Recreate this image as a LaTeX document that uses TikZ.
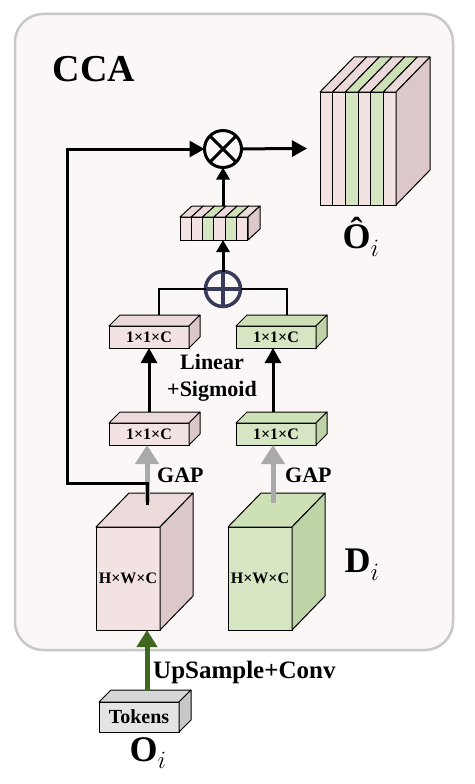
\documentclass[tikz,border=0pt]{standalone}
\usepackage{fontspec}
\setmainfont{Liberation Serif}
\usetikzlibrary{arrows.meta}

\definecolor{bgpink}{RGB}{251,247,246}
\definecolor{framegray}{RGB}{200,200,200}
\definecolor{pinkF}{RGB}{242,226,226}
\definecolor{pinkT}{RGB}{236,218,218}
\definecolor{pinkS}{RGB}{220,200,200}
\definecolor{greenF}{RGB}{214,230,194}
\definecolor{greenT}{RGB}{205,224,182}
\definecolor{greenS}{RGB}{190,211,166}
\definecolor{tokF}{RGB}{228,228,228}
\definecolor{tokT}{RGB}{214,214,214}
\definecolor{tokS}{RGB}{200,200,200}
\definecolor{arrgray}{RGB}{170,170,170}
\definecolor{upgreen}{RGB}{62,104,32}
\definecolor{plusnavy}{RGB}{55,58,90}

% top and side faces of a block whose front face is node #1
\newcommand{\boxfaces}[5]{%
  \draw[box,fill=#4] (#1.north west) -- ++(#2,#3) -- ([shift={(#2,#3)}]#1.north east) -- (#1.north east) -- cycle;
  \draw[box,fill=#5] (#1.north east) -- ++(#2,#3) -- ([shift={(#2,#3)}]#1.south east) -- (#1.south east) -- cycle;}

\begin{document}
\begin{tikzpicture}[x=1pt,y=-1pt]
        % Styles
        \tikzstyle{box}=[draw=black,line width=1pt,line join=round]
        \tikzstyle{block}=[box,rectangle,inner sep=0pt,outer sep=0pt,font=\fontsize{16}{16}\selectfont\bfseries]
        \tikzstyle{arr}=[line width=3pt,-{Triangle[length=15pt,width=16pt]}]
        \tikzstyle{small arr}=[line width=3pt,-{Triangle[length=12pt,width=13pt]}]
        \tikzstyle{gap arr}=[line width=5pt,draw=arrgray,-{Triangle[length=19pt,width=23pt]},arrgray]
        \tikzstyle{up arr}=[line width=5pt,draw=upgreen,-{Triangle[length=17pt,width=20pt]},upgreen]
        \tikzstyle{label text}=[font=\fontsize{22}{27}\selectfont\bfseries,inner sep=0pt]
        \tikzstyle{big label}=[font=\fontsize{36}{36}\selectfont,inner sep=0pt]
        \tikzstyle{symbol}=[circle,draw,inner sep=0pt,outer sep=0pt,minimum size=37pt,line width=3pt]
        \useasboundingbox (0,0) rectangle (474,784);
        %The graphic
        %frame
        \draw[line width=2.5pt,draw=framegray,fill=bgpink,rounded corners=28pt] (15,14) rectangle (453,650);
        \node[font=\fontsize{38}{38}\selectfont\bfseries] (cca) at (94,69) {CCA};
        %feature blocks
        \node[block,fill=pinkF,minimum width=64pt,minimum height=103pt] (dpink) at (128,578.5) {H×W×C};
        \boxfaces{dpink}{33}{-34}{pinkT}{pinkS}
        \node[block,fill=greenF,minimum width=64pt,minimum height=103pt] (dgreen) at (260,578.5) {H×W×C};
        \boxfaces{dgreen}{33}{-34}{greenT}{greenS}
        \node[block,fill=pinkF,minimum width=80pt,minimum height=22pt] (gpink) at (149,434) {1×1×C};
        \boxfaces{gpink}{11}{-11}{pinkT}{pinkS}
        \node[block,fill=greenF,minimum width=80pt,minimum height=22pt] (ggreen) at (276,434) {1×1×C};
        \boxfaces{ggreen}{11}{-11}{greenT}{greenS}
        \node[block,fill=pinkF,minimum width=80pt,minimum height=22pt] (lpink) at (149,337) {1×1×C};
        \boxfaces{lpink}{11}{-11}{pinkT}{pinkS}
        \node[block,fill=greenF,minimum width=80pt,minimum height=22pt] (lgreen) at (276,337) {1×1×C};
        \boxfaces{lgreen}{11}{-11}{greenT}{greenS}
        \node[block,fill=tokF,minimum width=80pt,minimum height=30pt,font=\fontsize{20}{20}\selectfont\bfseries] (tokens) at (139,717) {Tokens};
        \boxfaces{tokens}{12}{-12}{tokT}{tokS}
        %channel weights and output
        \node[inner sep=0pt,outer sep=0pt,minimum width=68pt,minimum height=23pt] (bar) at (214,228.5) {};
        \foreach \i/\f/\t in {0/pinkF/pinkT,1/pinkF/pinkT,2/greenF/greenT,3/pinkF/pinkT,4/greenF/greenT,5/pinkF/pinkT}
        {
            \draw[box,fill=\f] (180+\i*11.33,217) rectangle ++(11.33,23);
            \draw[box,fill=\t] (180+\i*11.33,217) -- ++(12,-11) -- ++(11.33,0) -- ++(-12,11) -- cycle;
        }
        \draw[box,fill=pinkS] (248,217) -- ++(12,-11) -- ++(0,23) -- (248,240) -- cycle;
        \node[inner sep=0pt,outer sep=0pt,minimum width=76pt,minimum height=113pt] (ohat) at (358,148.5) {};
        \foreach \i/\f/\t in {0/pinkF/pinkT,1/pinkF/pinkT,2/greenF/greenT,3/pinkF/pinkT,4/greenF/greenT,5/pinkF/pinkT}
        {
            \draw[box,fill=\f] (320+\i*12.67,92) rectangle ++(12.67,113);
            \draw[box,fill=\t] (320+\i*12.67,92) -- ++(34,-35) -- ++(12.67,0) -- ++(-34,35) -- cycle;
        }
        \draw[box,fill=pinkS] (396,92) -- ++(34,-35) -- ++(0,113) -- (396,205) -- cycle;
        %operators
        \node[symbol,fill=bgpink] (otimes) at (223,149) {};
        \draw[line width=3pt] (otimes.north west) -- (otimes.south east) (otimes.north east) -- (otimes.south west);
        \node[symbol,draw=plusnavy,fill=bgpink,minimum size=35pt,line width=3.5pt] (oplus) at (223,289) {};
        \draw[line width=3.5pt,plusnavy] (oplus.north) -- (oplus.south) (oplus.west) -- (oplus.east);
        %labels
        \node[big label] (ohatlab) at (361,237) {\bfseries Ô$_i$};
        \node[big label] (dlab) at (362,565) {$\mathbf{D}_i$};
        \node[big label] (olab) at (148,753) {$\mathbf{O}_i$};
        \node[label text,align=center] (linear) at (212,378) {Linear\\+Sigmoid};
        \node[label text,anchor=west] (gap1) at (157,475) {GAP};
        \node[label text,anchor=west] (gap2) at (285,475) {GAP};
        \node[label text,anchor=west,font=\fontsize{25}{25}\selectfont\bfseries] (upconv) at (153,672) {UpSample+Conv};
        %connections
        \path (dpink.north) ++(19,-22) coordinate (skip);
        \path (dpink.north) ++(19,-25) coordinate (pinkgap);
        \path (dgreen.north) ++(13,-24) coordinate (greengap);
        \path (tokens.north) ++(8,-11) coordinate (toktop);
        \path (bar.north -| otimes) ++(0,-11) coordinate (bartop);
        \draw[gap arr] (pinkgap) -- (pinkgap |- gpink.south);
        \draw[gap arr] (greengap) -- (greengap |- ggreen.south);
        \draw[up arr] (toktop) -- (toktop |- dpink.south);
        \draw[arr] ([yshift=11pt]gpink.north) -- (lpink.south);
        \draw[arr] ([shift={(-3,-11)}]ggreen.north) -- ([xshift=-3pt]lgreen.south);
        \draw[line width=2pt] ([shift={(10,-11)}]lpink.north) |- (oplus);
        \draw[line width=2pt] ([shift={(11,-11)}]lgreen.north) |- (oplus);
        \draw[small arr] (oplus) -- (oplus |- bar.south);
        \draw[small arr] (bartop) -- (otimes);
        \draw[arr] (skip) -- (147,483) -- (67,483) |- (otimes);
        \draw[arr] (otimes) -- ([xshift=-13pt]ohat.west);
\end{tikzpicture}
\end{document}
